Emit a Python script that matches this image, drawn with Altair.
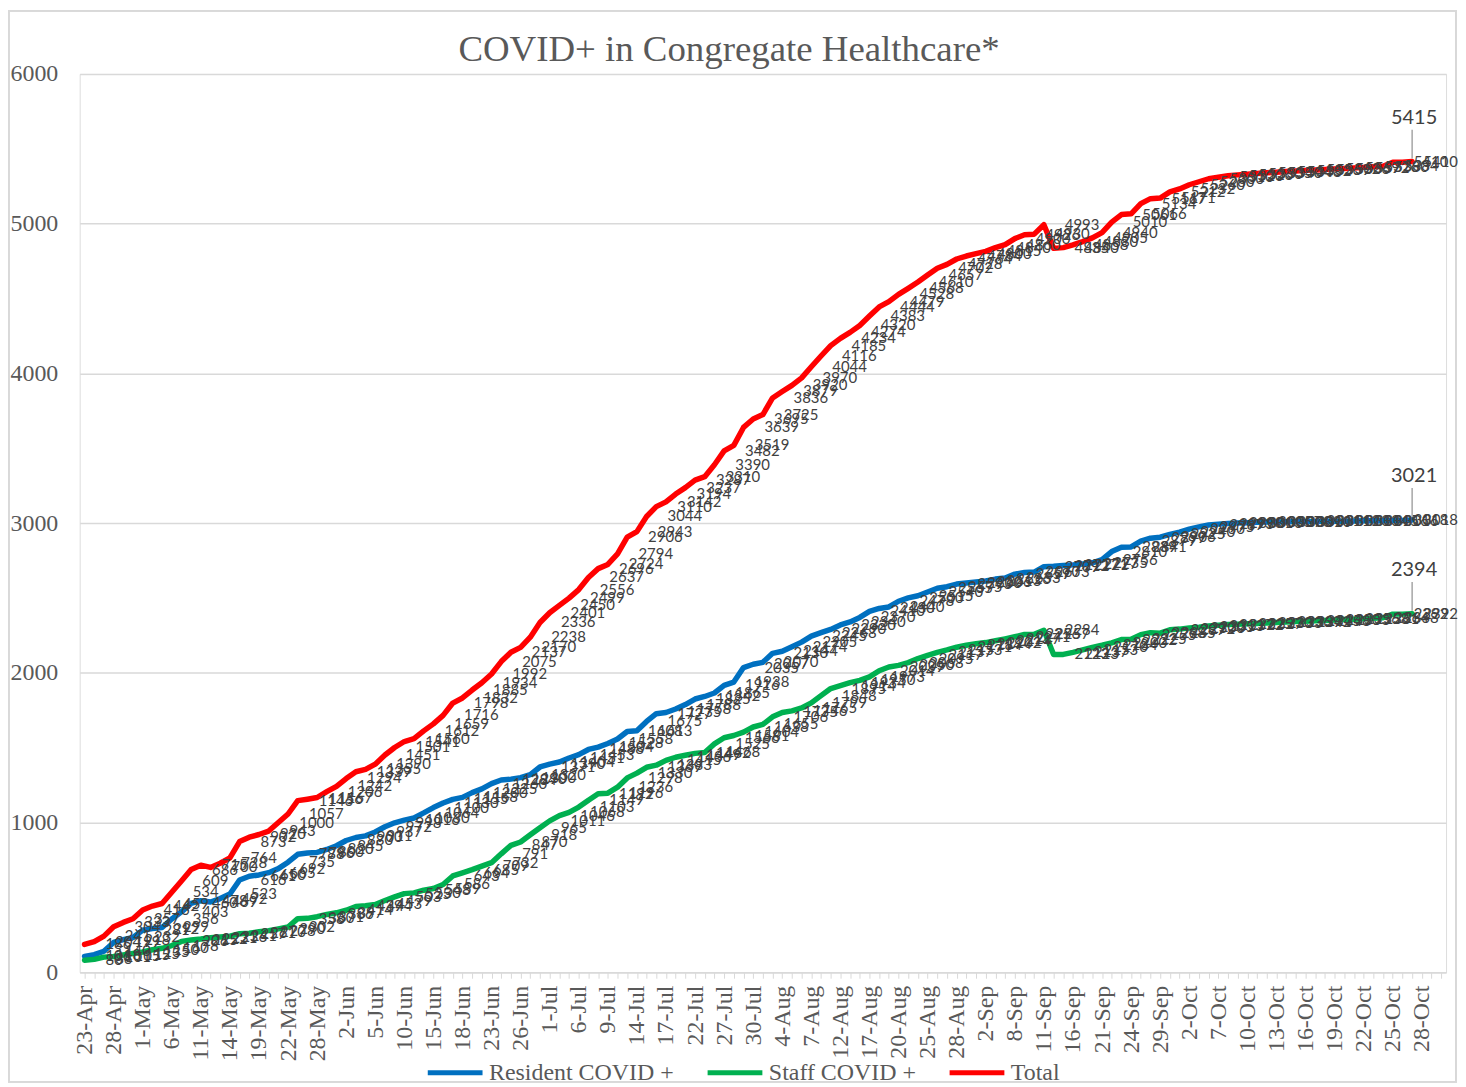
import json
import altair as alt
import pandas as pd

# ---- categories (x axis) ----
dates = (
    ["23-Apr", "24-Apr", "27-Apr", "28-Apr", "29-Apr", "30-Apr"]
    + ["1-May", "4-May", "5-May", "6-May", "7-May", "8-May", "11-May", "12-May", "13-May", "14-May",
       "15-May", "18-May", "19-May", "20-May", "21-May", "22-May", "26-May", "27-May", "28-May", "29-May"]
    + ["1-Jun", "2-Jun", "3-Jun", "4-Jun", "5-Jun", "8-Jun", "9-Jun", "10-Jun", "11-Jun", "12-Jun",
       "15-Jun", "16-Jun", "17-Jun", "18-Jun", "19-Jun", "22-Jun", "23-Jun", "24-Jun", "25-Jun", "26-Jun",
       "29-Jun", "30-Jun"]
    + ["1-Jul", "2-Jul", "3-Jul", "6-Jul", "7-Jul", "8-Jul", "9-Jul", "10-Jul", "13-Jul", "14-Jul",
       "15-Jul", "16-Jul", "17-Jul", "20-Jul", "21-Jul", "22-Jul", "23-Jul", "24-Jul", "27-Jul", "28-Jul",
       "29-Jul", "30-Jul", "31-Jul"]
    + ["3-Aug", "4-Aug", "5-Aug", "6-Aug", "7-Aug", "10-Aug", "11-Aug", "12-Aug", "13-Aug", "14-Aug",
       "17-Aug", "18-Aug", "19-Aug", "20-Aug", "21-Aug", "24-Aug", "25-Aug", "26-Aug", "27-Aug", "28-Aug",
       "31-Aug"]
    + ["1-Sep", "2-Sep", "3-Sep", "4-Sep", "8-Sep", "9-Sep", "10-Sep", "11-Sep", "14-Sep", "15-Sep",
       "16-Sep", "17-Sep", "18-Sep", "21-Sep", "22-Sep", "23-Sep", "24-Sep", "25-Sep", "28-Sep", "29-Sep",
       "30-Sep"]
    + ["1-Oct", "2-Oct", "5-Oct", "6-Oct", "7-Oct", "8-Oct", "9-Oct", "10-Oct", "11-Oct", "12-Oct",
       "13-Oct", "14-Oct", "15-Oct", "16-Oct", "17-Oct", "18-Oct", "19-Oct", "20-Oct", "21-Oct", "22-Oct",
       "23-Oct", "24-Oct", "25-Oct", "26-Oct", "27-Oct", "28-Oct", "29-Oct", "30-Oct"]
)

tick_dates = ["23-Apr", "28-Apr", "1-May", "6-May", "11-May", "14-May", "19-May", "22-May", "28-May",
              "2-Jun", "5-Jun", "10-Jun", "15-Jun", "18-Jun", "23-Jun", "26-Jun", "1-Jul", "6-Jul",
              "9-Jul", "14-Jul", "17-Jul", "22-Jul", "27-Jul", "30-Jul", "4-Aug", "7-Aug", "12-Aug",
              "17-Aug", "20-Aug", "25-Aug", "28-Aug", "2-Sep", "8-Sep", "11-Sep", "16-Sep", "21-Sep",
              "24-Sep", "29-Sep", "2-Oct", "7-Oct", "10-Oct", "13-Oct", "16-Oct", "19-Oct", "22-Oct",
              "25-Oct", "28-Oct"]

# ---- series values ----
resident = [
    106, 118, 140, 199, 218, 232, 281, 292, 299, 356, 403, 460, 478, 469, 492, 523, 616, 641, 650, 665,
    692, 735, 788, 796, 800, 820, 845, 880, 900, 911, 937, 972, 998, 1016, 1030, 1064, 1100, 1130, 1155, 1168,
    1200, 1225, 1260, 1284, 1290, 1300, 1320, 1371, 1390, 1404, 1431, 1453, 1488, 1504, 1528, 1558, 1608, 1613, 1675, 1727,
    1735, 1758, 1788, 1825, 1842, 1865, 1916, 1938, 2035, 2057, 2070, 2130, 2144, 2174, 2205, 2245, 2268, 2290, 2320, 2340,
    2370, 2410, 2430, 2440, 2478, 2500, 2515, 2540, 2565, 2575, 2593, 2600, 2606, 2613, 2626, 2633, 2659, 2670, 2673, 2709,
    2712, 2717, 2721, 2727, 2735, 2756, 2810, 2839, 2841, 2879, 2899, 2906, 2925, 2940, 2960, 2975, 2987, 2993, 2998, 3001,
    3003, 3005, 3007, 3008, 3009, 3010, 3011, 3011, 3012, 3013, 3013, 3014, 3015, 3016, 3016, 3018, 3018, 3021,
]
staff = [
    80, 86, 101, 105, 115, 125, 135, 150, 160, 178, 206, 215, 222, 231, 236, 241, 257, 261, 270, 278,
    290, 302, 358, 360, 371, 386, 397, 414, 439, 444, 453, 479, 503, 525, 530, 548, 559, 586, 643, 664,
    685, 709, 732, 791, 847, 870, 918, 965, 1011, 1046, 1068, 1103, 1149, 1192, 1196, 1236, 1298, 1330, 1369, 1383,
    1415, 1436, 1449, 1462, 1468, 1525, 1566, 1581, 1604, 1638, 1655, 1706, 1735, 1746, 1765, 1799, 1848, 1895, 1914, 1934,
    1950, 1973, 2014, 2039, 2050, 2068, 2095, 2117, 2137, 2153, 2171, 2184, 2194, 2202, 2214, 2227, 2241, 2256, 2257, 2284,
    2123, 2123, 2137, 2153, 2170, 2184, 2200, 2222, 2225, 2255, 2268, 2265, 2287, 2292, 2300, 2305, 2313, 2317, 2322, 2325,
    2327, 2330, 2333, 2336, 2339, 2342, 2345, 2348, 2350, 2353, 2356, 2358, 2361, 2364, 2368, 2392, 2392, 2394,
]
total = [
    186, 204, 241, 304, 333, 357, 416, 442, 459, 534, 609, 686, 715, 700, 728, 764, 873, 902, 920, 943,
    1000, 1057, 1146, 1156, 1167, 1206, 1242, 1294, 1339, 1355, 1390, 1451, 1501, 1541, 1560, 1612, 1659, 1716, 1798, 1832,
    1885, 1934, 1992, 2075, 2137, 2170, 2238, 2336, 2401, 2450, 2499, 2556, 2637, 2696, 2724, 2794, 2906, 2943, 3044, 3110,
    3142, 3194, 3237, 3287, 3310, 3390, 3482, 3519, 3639, 3695, 3725, 3836, 3879, 3920, 3970, 4044, 4116, 4185, 4234, 4274,
    4320, 4383, 4444, 4479, 4528, 4568, 4610, 4657, 4702, 4728, 4764, 4784, 4800, 4815, 4840, 4860, 4900, 4926, 4930, 4993,
    4835, 4840, 4858, 4880, 4905, 4940, 5010, 5061, 5066, 5134, 5167, 5171, 5212, 5232, 5260, 5280, 5300, 5310, 5320, 5326,
    5330, 5335, 5340, 5344, 5348, 5352, 5356, 5359, 5362, 5366, 5369, 5372, 5376, 5380, 5384, 5410, 5410, 5415,
]

series_names = ["Resident COVID +", "Staff COVID +", "Total"]
series_colors = ["#0070C0", "#00B050", "#FF0000"]

rows = []
for name, vals in zip(series_names, [resident, staff, total]):
    n = len(vals)
    for i, v in enumerate(vals):
        rows.append({"date": dates[i], "series": name, "value": v, "last": i == n - 1})
df = pd.DataFrame(rows)

SERIF = "Liberation Serif"
GREY_TXT = "#595959"
GRID = "#d9d9d9"

label_expr = "indexof(" + json.dumps(tick_dates) + ", datum.value) >= 0 ? datum.value : ''"

x_enc = alt.X(
    "date:O",
    scale=alt.Scale(type="point", domain=dates, padding=0.5),
    axis=alt.Axis(
        title=None, labelAngle=270, labelExpr=label_expr, labelOverlap=False,
        labelFont=SERIF, labelFontSize=24, labelColor=GREY_TXT, labelPadding=7,
        domainColor=GRID, domainWidth=1.5, tickColor=GRID, tickSize=6, tickWidth=1, grid=False,
    ),
)
y_enc = alt.Y(
    "value:Q",
    scale=alt.Scale(domain=[0, 6000], nice=False),
    axis=alt.Axis(
        title=None, values=[0, 1000, 2000, 3000, 4000, 5000, 6000], format="d", grid=True, gridColor=GRID,
        gridWidth=1.5, domain=False, ticks=False, labelFont=SERIF, labelFontSize=24,
        labelColor=GREY_TXT, labelPadding=22,
    ),
)

base = alt.Chart(df)

border = alt.Chart(df).mark_rect(fill="transparent", stroke=GRID, strokeWidth=1.5).encode(
    x=alt.value(-71.5), x2=alt.value(1382), y=alt.value(-63.5), y2=alt.value(1012)
)

lines = base.mark_line(strokeWidth=5.5, strokeCap="round", strokeJoin="round").encode(
    x=x_enc,
    y=y_enc,
    color=alt.Color(
        "series:N",
        scale=alt.Scale(domain=series_names, range=series_colors),
        legend=alt.Legend(
            orient="none", legendX=347, legendY=973, direction="horizontal", title=None,
            symbolType="stroke", symbolStrokeWidth=5, symbolSize=3025, labelLimit=400,
            labelFont=SERIF, labelFontSize=24, labelColor=GREY_TXT, columnPadding=23, labelOffset=4,
        ),
    ),
)

labels = base.transform_filter("!datum.last").mark_text(
    align="left", baseline="middle", dx=21, font="Lato", fontSize=15, color="#404040"
).encode(x=x_enc, y=y_enc, text=alt.Text("value:Q", format="d"))

leaders = base.transform_filter("datum.last").mark_rule(
    color="#a6a6a6", strokeWidth=1.5, yOffset=-3, y2Offset=-32
).encode(x=x_enc, y=y_enc, y2=alt.Y2("value:Q"))

callouts = base.transform_filter("datum.last").mark_text(
    align="center", baseline="middle", dx=2, dy=-44, font="Lato", fontSize=20, color="#404040"
).encode(x=x_enc, y=y_enc, text=alt.Text("value:Q", format="d"))

chart = alt.layer(border, lines, labels, leaders, callouts).properties(
    width=1372,
    height=902,
    title=alt.TitleParams(
        "COVID+ in Congregate Healthcare*", font=SERIF, fontSize=37, fontWeight="normal",
        color=GREY_TXT, anchor="middle", frame="group", baseline="alphabetic", offset=-88, dx=-34,
    ),
    padding={"left": 72, "top": 64, "right": 12, "bottom": 112},
    autosize=alt.AutoSizeParams(type="none"),
).configure_view(stroke=None).configure(background="white")

chart.save("out.html", embed_options={"renderer": "svg", "actions": False})
